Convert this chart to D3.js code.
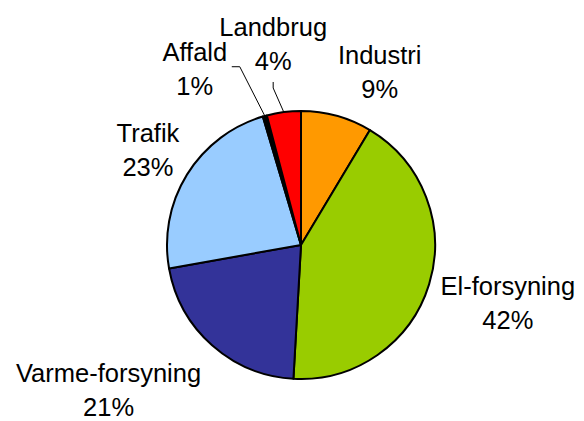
<!DOCTYPE html>
<html>
<head>
<meta charset="utf-8">
<script src="https://cdn.jsdelivr.net/npm/d3@7"></script>
<style>
  body { margin: 0; background: #fff; }
  .lbl { font-family: "Liberation Sans", Arial, sans-serif; font-size: 25.5px; fill: #000; }
</style>
</head>
<body>
<div id="chart"></div>
<script>
// slices, clockwise from 12 o'clock (shares, labels show them rounded)
var categories = ["Industri", "El-forsyning", "Varme-forsyning", "Trafik", "Affald", "Landbrug"];
var shares = [8.6, 42.3, 21.3, 23.2, 0.5, 4.1];
var colours = ["#FF9900", "#99CC00", "#333399", "#99CCFF", "#000000", "#FF0000"];

// label placement: distance from centre and a small turn (degrees) off the slice middle
var labelRadius = [183, 217, 246, 176, 199, 195.5];
var labelTurn = [10, 0.5, 9.9, -2.1, -16.6, -0.8];

var width = 584, height = 421;
var cx = 301, cy = 245, radius = 134;

var svg = d3.select("#chart").append("svg")
    .attr("width", width)
    .attr("height", height);

var data = categories.map(function(c, i){
  return {name: c, value: shares[i], colour: colours[i], lr: labelRadius[i], turn: labelTurn[i]};
});

var pie = d3.pie()
    .value(function(d){ return d.value; })
    .sort(null);

var arc = d3.arc().innerRadius(0).outerRadius(radius);

var g = svg.append("g").attr("transform", "translate(" + cx + "," + cy + ")");
var arcs = pie(data);

g.selectAll("path")
  .data(arcs)
  .enter().append("path")
    .attr("d", arc)
    .attr("fill", function(d){ return d.data.colour; })
    .attr("stroke", "#000")
    .attr("stroke-width", 2)
    .attr("stroke-linejoin", "round");

function polar(r, a){
  return [Math.sin(a) * r, -Math.cos(a) * r];
}

//labels
arcs.forEach(function(d){
  var mid = (d.startAngle + d.endAngle) / 2;
  var p = polar(d.data.lr, mid + d.data.turn * Math.PI / 180);
  var t = g.append("text")
    .attr("class", "lbl")
    .attr("text-anchor", "middle")
    .attr("x", p[0]);
  t.append("tspan").attr("x", p[0]).attr("y", p[1] - 16).text(d.data.name);
  t.append("tspan").attr("x", p[0]).attr("y", p[1] + 18).text(Math.round(d.data.value) + "%");

  // leader lines for the two thin slices
  if (d.data.name == "Affald" || d.data.name == "Landbrug"){
    var s = polar(radius, mid);
    var pts;
    if (d.data.name == "Affald"){
      pts = [s, [p[0] + 45, p[1] - 10], [p[0] + 37, p[1] - 10]];
    } else {
      pts = [s, [p[0] + 0, p[1] + 36.5], [p[0], p[1] + 30.5]];
    }
    g.append("path")
      .attr("d", d3.line()(pts))
      .attr("fill", "none")
      .attr("stroke", "#000")
      .attr("stroke-width", 1);
  }
});
</script>
</body>
</html>
